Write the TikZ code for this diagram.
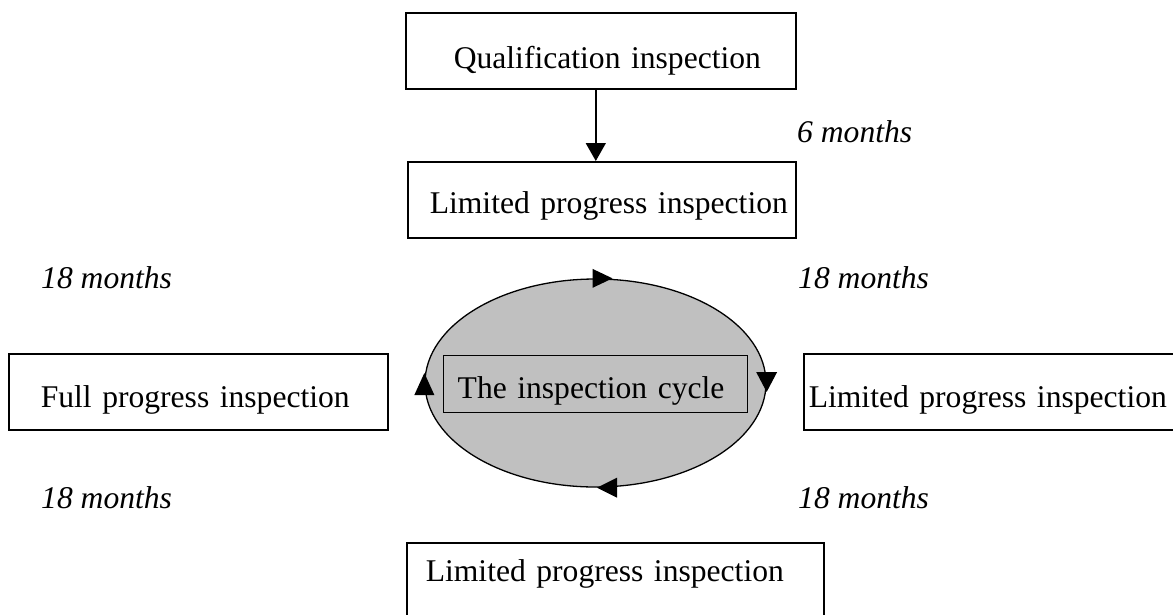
\documentclass[tikz,border=0pt]{standalone}
\usepackage{fontspec}
\setmainfont{Liberation Serif}
\usetikzlibrary{arrows.meta,shapes.geometric}
\definecolor{cyclegray}{RGB}{192,192,192}
\tikzset{
  every node/.style={font=\fontsize{31.6}{38}\selectfont},
  stagebox/.style={draw, line width=1.6pt, rectangle, anchor=north west,
    inner xsep=0pt, inner ysep=0pt, align=left},
  period/.style={anchor=base west, inner sep=0pt, font=\fontsize{31.6}{38}\selectfont\itshape},
  flow/.style={line width=1.5pt, -{Triangle[length=18pt,width=20pt]}},
  cyctip/.style={fill=black},
}
\begin{document}
\begin{tikzpicture}[x=1pt,y=-1pt]
\useasboundingbox (0,0) rectangle (1173,614);
% boxes
\node[stagebox, text width=390pt, text height=56pt, text depth=20pt] (q) at (405,12)
  {\hspace*{48pt}Qualification inspection};
\node[stagebox, text width=388pt, text height=52pt, text depth=24pt] (l1) at (407,161)
  {\hspace*{22pt}Limited progress inspection};
\node[stagebox, text width=379pt, text height=54pt, text depth=22pt] (full) at (8,353)
  {\hspace*{32pt}Full progress inspection};
\node[stagebox, text width=420pt, text height=54pt, text depth=22pt] (lr) at (803,353)
  {\hspace*{5pt}Limited progress inspection};
\node[stagebox, text width=417pt, text height=39pt, text depth=37pt] (lb) at (406,542)
  {\hspace*{19pt}Limited progress inspection};
% cycle
\node[draw, line width=1.3pt, ellipse, fill=cyclegray, minimum width=341pt,
  minimum height=208pt, inner sep=0pt] (cyc) at (595.5,383) {};
\node[stagebox, line width=1.4pt, text width=304pt, text height=43pt, text depth=14pt] (cyclbl) at (443,355)
  {\hspace*{14pt}The inspection cycle};
% arrow tips on the cycle
\fill[cyctip] ([xshift=-3pt,yshift=-9.5pt]cyc.north) -- ++(20,-9.5) -- ++(-20,-9.5) -- cycle;
\fill[cyctip] ([xshift=-10.5pt,yshift=11pt]cyc.east) -- ++(21,0) -- ++(-10.5,20) -- cycle;
\fill[cyctip] ([xshift=21.5pt,yshift=10pt]cyc.south) -- ++(0,20) -- ++(-20,-10) -- cycle;
\fill[cyctip] ([xshift=-10pt,yshift=-12pt]cyc.west) -- ++(20,0) -- ++(-10,-22) -- cycle;
% connector
\draw[flow] ([xshift=-5pt]q.south) -- ([xshift=-6pt]l1.north);
% periods
\node[period] (p6) at (797,142) {6 months};
\node[period] (p1) at (41,288) {18 months};
\node[period] (p2) at (798,288) {18 months};
\node[period] (p3) at (41,508) {18 months};
\node[period] (p4) at (798,508) {18 months};
\end{tikzpicture}
\end{document}
